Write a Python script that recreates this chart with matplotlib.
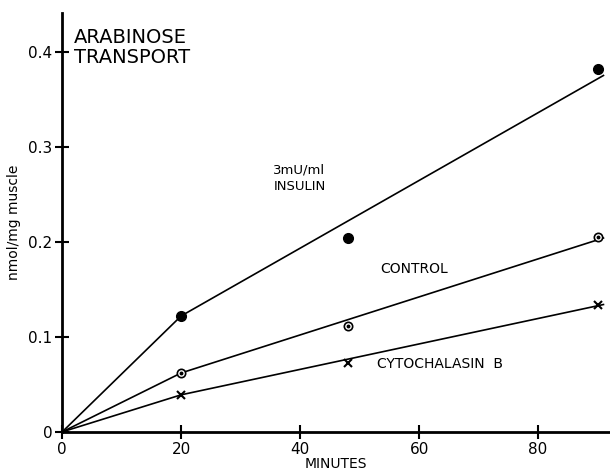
import numpy as np
import matplotlib.pyplot as plt

# measured points (minutes, nmol/mg muscle)
minutes = [20, 48, 90]
insulin = [0.122, 0.204, 0.382]
control = [0.062, 0.111, 0.205]
cytochalasin = [0.039, 0.072, 0.134]

# drawn lines: origin -> 20 min -> end of axis
line_x = [0, 20, 91]
insulin_line = [0, 0.122, 0.375]
control_line = [0, 0.062, 0.204]
cyto_line = [0, 0.039, 0.134]

xticks = [0, 20, 40, 60, 80]
yticks = [0, 0.1, 0.2, 0.3, 0.4]
ytick_labels = ['0', '0.1', '0.2', '0.3', '0.4']

plt.rcParams['font.family'] = 'DejaVu Sans'

fig = plt.figure(figsize=(6.1, 4.72), dpi=100)
ax = fig.add_axes([0.102, 0.085, 0.898, 0.888])

lw = 1.2
ax.plot(line_x, insulin_line, color='black', lw=lw)
ax.plot(line_x, control_line, color='black', lw=lw)
ax.plot(line_x, cyto_line, color='black', lw=lw)

ax.plot(minutes, insulin, 'o', color='black', ms=7)
ax.plot(minutes, control, 'o', mfc='white', mec='black', mew=1.2, ms=6)
ax.plot(minutes, control, 'o', color='black', ms=1.8)
ax.plot(minutes, cytochalasin, 'x', color='black', ms=6, mew=1.5)

ax.set_xlim(0, 92.1)
ax.set_ylim(0, 0.441)

for s in ['top', 'right']:
    ax.spines[s].set_visible(False)
for s in ['left', 'bottom']:
    ax.spines[s].set_linewidth(2)

ax.set_xticks(xticks)
ax.set_yticks(yticks)
ax.set_yticklabels(ytick_labels)
ax.tick_params(direction='inout', length=10, width=1.5, labelsize=11, pad=2)

ax.set_xlabel('MINUTES', fontsize=10, labelpad=0)
ax.set_ylabel('nmol/mg muscle', fontsize=10, labelpad=4)
ax.yaxis.set_label_coords(-0.075, 0.5)

ax.text(2, 0.425, 'ARABINOSE\nTRANSPORT', fontsize=14, va='top', ha='left', linespacing=1.1)
ax.text(35.5, 0.282, '3mU/ml\nINSULIN', fontsize=9.5, va='top', ha='left', linespacing=1.3)
ax.text(53.5, 0.171, 'CONTROL', fontsize=10, va='center', ha='left')
ax.text(53, 0.071, 'CYTOCHALASIN  B', fontsize=10, va='center', ha='left')

fig.savefig('out.png', dpi=100)
